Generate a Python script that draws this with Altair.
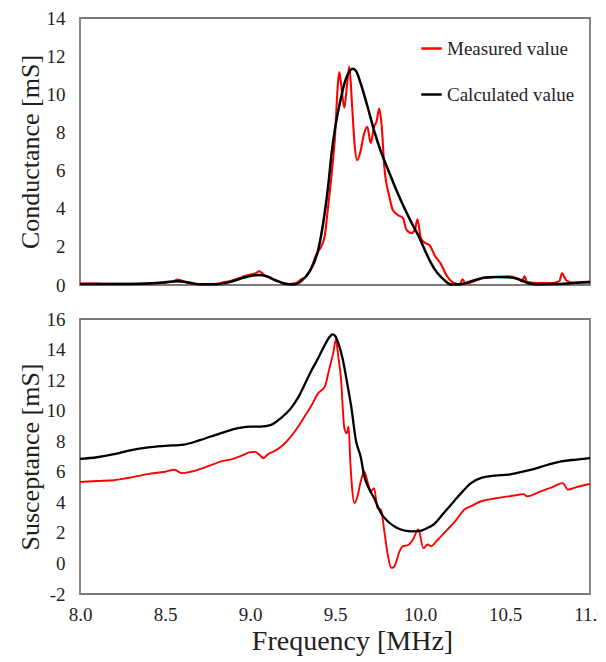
import altair as alt
import pandas as pd

# ---------------- data ----------------
SERIES = ["Measured value", "Calculated value"]

# Conductance, measured (red)
g_meas_f = [8.00, 8.10, 8.20, 8.30, 8.40, 8.50, 8.55, 8.575, 8.60, 8.65, 8.72, 8.80, 8.85, 8.90, 8.95,
            9.00, 9.03, 9.055, 9.08, 9.12, 9.18, 9.22, 9.27, 9.30, 9.33, 9.36, 9.39, 9.418, 9.44, 9.457,
            9.48, 9.50, 9.516, 9.525, 9.535, 9.555, 9.572, 9.584, 9.60, 9.615, 9.63, 9.65, 9.67, 9.69,
            9.71, 9.73, 9.745, 9.76, 9.775, 9.79, 9.82, 9.84, 9.87, 9.90, 9.92, 9.95, 9.97, 9.985,
            10.005, 10.03, 10.055, 10.09, 10.12, 10.16, 10.20, 10.235, 10.25, 10.27, 10.32, 10.38,
            10.45, 10.52, 10.57, 10.60, 10.615, 10.63, 10.70, 10.78, 10.82, 10.835, 10.86, 10.90,
            10.95, 11.00]
g_meas_v = [0.08, 0.07, 0.06, 0.06, 0.08, 0.12, 0.20, 0.28, 0.22, 0.08, 0.03, 0.06, 0.15, 0.25, 0.40,
            0.55, 0.60, 0.72, 0.55, 0.35, 0.15, 0.05, 0.10, 0.30, 0.45, 0.90, 1.60, 2.00, 2.60, 3.90,
            5.80, 7.80, 10.40, 11.16, 10.60, 9.30, 10.60, 11.46, 9.50, 7.40, 6.55, 7.00, 7.90, 8.30,
            7.45, 8.30, 8.60, 9.25, 8.30, 6.20, 4.63, 3.93, 3.67, 3.50, 2.90, 2.72, 2.90, 3.45,
            2.45, 2.20, 2.10, 1.50, 1.15, 0.45, 0.10, 0.05, 0.30, 0.08, 0.20, 0.40,
            0.42, 0.45, 0.35, 0.20, 0.45, 0.15, 0.10, 0.10, 0.20, 0.62, 0.25, 0.12,
            0.15, 0.18]

# Conductance, calculated (black)
g_calc_f = [8.00, 8.20, 8.40, 8.50, 8.57, 8.63, 8.70, 8.80, 8.88, 8.95, 9.00, 9.05, 9.10, 9.15, 9.20,
            9.26, 9.30, 9.35, 9.40, 9.435, 9.46, 9.48, 9.50, 9.53, 9.56, 9.585, 9.605, 9.625, 9.65,
            9.69, 9.73, 9.77, 9.81, 9.86, 9.91, 9.96, 9.99, 10.03, 10.065, 10.10, 10.14, 10.18, 10.22,
            10.27, 10.32, 10.38, 10.45, 10.52, 10.58, 10.63, 10.68, 10.80, 10.90, 11.00]
g_calc_v = [0.05, 0.05, 0.08, 0.14, 0.20, 0.15, 0.04, 0.04, 0.15, 0.35, 0.47, 0.52, 0.45, 0.25, 0.08,
            0.03, 0.20, 0.70, 1.80, 3.50, 5.20, 6.90, 8.20, 9.60, 10.70, 11.20, 11.34, 11.20, 10.60,
            9.40, 8.10, 7.00, 6.10, 5.00, 4.00, 3.10, 2.60, 1.80, 1.15, 0.65, 0.28, 0.03, 0.02,
            0.10, 0.25, 0.38, 0.42, 0.40, 0.30, 0.12, 0.03, 0.05, 0.10, 0.15]

# Susceptance, measured (red)
b_meas_f = [8.00, 8.10, 8.20, 8.28, 8.40, 8.50, 8.555, 8.60, 8.65, 8.75, 8.83, 8.90, 8.95, 9.00, 9.03,
            9.055, 9.08, 9.10, 9.14, 9.19, 9.24, 9.28, 9.32, 9.36, 9.40, 9.44, 9.467, 9.49, 9.505,
            9.52, 9.535, 9.555, 9.57, 9.58, 9.59, 9.60, 9.614, 9.63, 9.65, 9.672, 9.69, 9.71, 9.73,
            9.75, 9.77, 9.79, 9.81, 9.83, 9.845, 9.86, 9.88, 9.90, 9.93, 9.96, 9.99, 10.02, 10.045,
            10.065, 10.10, 10.16, 10.21, 10.26, 10.30, 10.36, 10.44, 10.52, 10.58, 10.61, 10.63,
            10.71, 10.78, 10.84, 10.87, 10.92, 11.00]
b_meas_v = [5.33, 5.40, 5.45, 5.59, 5.85, 6.00, 6.13, 5.91, 6.00, 6.35, 6.68, 6.85, 7.05, 7.28, 7.30,
            7.11, 6.89, 7.10, 7.33, 7.70, 8.30, 8.90, 9.60, 10.30, 11.13, 11.57, 12.76, 13.80, 14.65,
            13.50, 12.11, 8.85, 8.52, 8.96, 6.68, 5.00, 3.96, 4.30, 5.30, 6.02, 5.40, 4.72, 4.93,
            3.63, 3.52, 2.11, 0.60, -0.28, -0.25, 0.10, 0.80, 1.13, 1.20, 1.60, 2.22, 1.00, 1.24,
            1.13, 1.50, 2.20, 2.80, 3.52, 3.75, 4.07, 4.25, 4.39, 4.50, 4.54, 4.39,
            4.72, 5.00, 5.26, 4.83, 5.00, 5.20]

# Susceptance, calculated (black)
b_calc_f = [8.00, 8.10, 8.20, 8.28, 8.40, 8.50, 8.61, 8.70, 8.77, 8.85, 8.93, 9.00, 9.06, 9.124, 9.18,
            9.24, 9.28, 9.32, 9.36, 9.40, 9.44, 9.47, 9.485, 9.50, 9.52, 9.545, 9.57, 9.594, 9.624,
            9.653, 9.67, 9.70, 9.73, 9.77, 9.81, 9.86, 9.91, 9.95, 9.99, 10.04, 10.08, 10.14, 10.20,
            10.25, 10.30, 10.36, 10.44, 10.52, 10.60, 10.65, 10.75, 10.83, 10.92, 11.00]
b_calc_v = [6.85, 6.95, 7.15, 7.37, 7.60, 7.70, 7.78, 8.05, 8.31, 8.60, 8.85, 8.95, 8.96, 9.07, 9.50,
            10.15, 10.80, 11.68, 12.60, 13.41, 14.30, 14.85, 15.00, 14.90, 14.40, 13.40, 11.90, 10.37,
            8.00, 6.89, 5.81, 4.90, 4.28, 3.30, 2.76, 2.35, 2.15, 2.10, 2.11, 2.30, 2.55, 3.30, 4.07,
            4.70, 5.26, 5.60, 5.75, 5.81, 6.00, 6.13, 6.45, 6.68, 6.80, 6.89]

x_ticks = [8.0, 8.5, 9.0, 9.5, 10.0, 10.5, 11.0]
g_ticks = [0, 2, 4, 6, 8, 10, 12, 14]
b_ticks = [-2, 0, 2, 4, 6, 8, 10, 12, 14, 16]


def frame(f, v, name):
    return pd.DataFrame({"f": f, "v": v, "series": name})


g_meas = frame(g_meas_f, g_meas_v, SERIES[0])
g_calc = frame(g_calc_f, g_calc_v, SERIES[1])
b_meas = frame(b_meas_f, b_meas_v, SERIES[0])
b_calc = frame(b_calc_f, b_calc_v, SERIES[1])

FONT = "Liberation Serif"
TXT = "#1f1f1f"
W = 510

color_scale = alt.Scale(domain=SERIES, range=["#ff0000", "#000000"])

legend = alt.Legend(
    title=None, orient="none", legendX=340, legendY=19,
    symbolType="stroke", symbolSize=420, symbolStrokeWidth=2.5,
    labelFont=FONT, labelFontSize=19, labelColor=TXT, labelOffset=4,
    rowPadding=24, padding=0,
)

x_top = alt.X("f:Q", scale=alt.Scale(domain=[8, 11], nice=False, zero=False),
              axis=alt.Axis(labels=False, ticks=False, domain=False, grid=False, title=None))
y_top = alt.Y("v:Q", scale=alt.Scale(domain=[0, 14], nice=False),
              axis=alt.Axis(values=g_ticks, title="Conductance [mS]"))


def top_layer(df, width):
    return alt.Chart(df).mark_line(strokeWidth=width, interpolate="monotone").encode(
        x=x_top, y=y_top,
        color=alt.Color("series:N", scale=color_scale, legend=legend),
    )


top = alt.layer(top_layer(g_meas, 2.1), top_layer(g_calc, 2.5)).properties(width=W, height=267)

x_bot = alt.X("f:Q", scale=alt.Scale(domain=[8, 11], nice=False, zero=False),
              axis=alt.Axis(values=x_ticks, format=".1f", title="Frequency [MHz]",
                            labelFlush=False, labelPadding=11, titlePadding=3,
                            titleFontSize=28, titleX=272))
y_bot = alt.Y("v:Q", scale=alt.Scale(domain=[-2, 16], nice=False),
              axis=alt.Axis(values=b_ticks, title="Susceptance [mS]",
                            labelExpr="datum.value < 0 ? '-' + abs(datum.value) : datum.label"))


def bot_layer(df, width):
    return alt.Chart(df).mark_line(strokeWidth=width, interpolate="monotone").encode(
        x=x_bot, y=y_bot,
        color=alt.Color("series:N", scale=color_scale, legend=None),
    )


bottom = alt.layer(bot_layer(b_meas, 1.9), bot_layer(b_calc, 2.3)).properties(width=W, height=275)

chart = alt.vconcat(top, bottom, spacing=34, bounds="flush").resolve_scale(
    color="independent"
).resolve_legend(color="independent").properties(
    padding={"left": 8, "top": 0, "right": -10, "bottom": 0},
).configure_axis(
    labelFont=FONT, titleFont=FONT, labelFontSize=19, titleFontSize=26,
    titleFontWeight="normal", labelColor=TXT, titleColor=TXT,
    grid=False, ticks=False, domain=False, labelPadding=15, titlePadding=3,
).configure_view(
    stroke="#7a7a7a", strokeWidth=1.8,
)

chart.save("out.html", embed_options={"renderer": "svg", "actions": False})
